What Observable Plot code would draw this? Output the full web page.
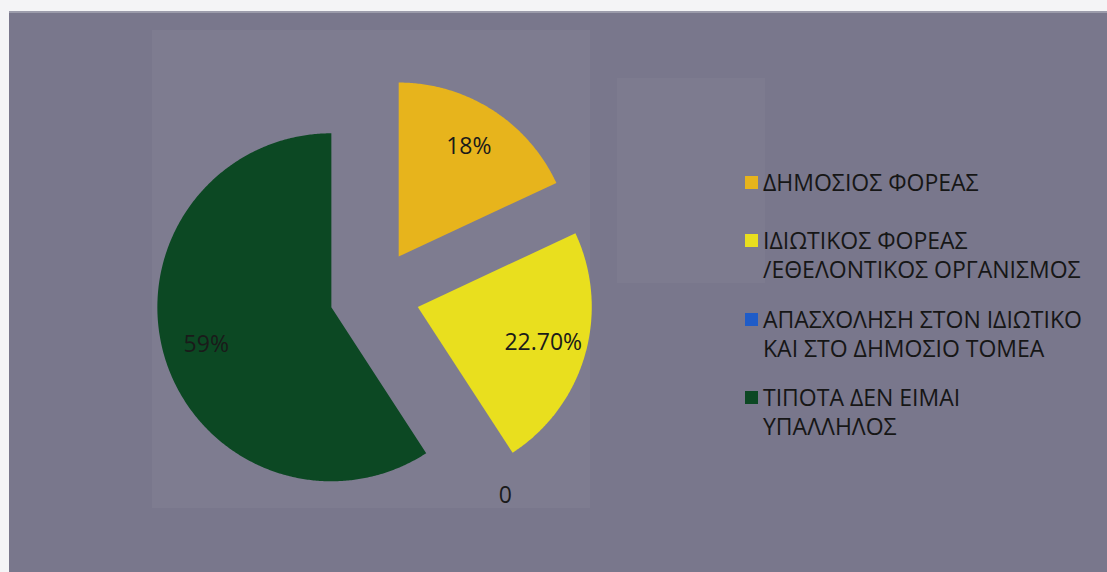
<!DOCTYPE html>
<html>
<head>
<meta charset="utf-8">
<script src="https://cdn.jsdelivr.net/npm/d3@7"></script>
<script src="https://cdn.jsdelivr.net/npm/@observablehq/plot@0.6"></script>
<style>
  html, body { margin: 0; padding: 0; background: #ffffff; }
  #wrap { position: relative; width: 1107px; height: 572px; overflow: hidden; background: #f4f4f6; }
  #frame { position: absolute; left: 9px; top: 11px; width: 1098px; height: 561px;
           background: rgb(121,119,140); border-top: 2px solid #9c9cab; box-sizing: border-box; }
  #plotbg { position: absolute; left: 152px; top: 30px; width: 438px; height: 478px; background: rgb(126,124,144); }
  #legbg { position: absolute; left: 617px; top: 78px; width: 148px; height: 205px; background: rgb(125,123,143); }
  #chart { position: absolute; left: 0; top: 0; }
  #legend { position: absolute; left: 745px; top: 168px; width: 345px;
            font-family: "Open Sans", sans-serif; font-size: 23px; line-height: 29px; color: #161616; }
  .item { position: relative; padding-left: 18px; width: 327px; }
  .sw { position: absolute; left: 0; top: 8px; width: 13px; height: 13px; }
</style>
</head>
<body>
<div id="wrap">
  <div id="frame"></div>
  <div id="plotbg"></div>
  <div id="legbg"></div>
  <div id="chart"></div>
  <div id="legend"></div>
</div>
<script>
// ---- data ----
const categories = [
  "ΔΗΜΟΣΙΟΣ ΦΟΡΕΑΣ",
  "ΙΔΙΩΤΙΚΟΣ ΦΟΡΕΑΣ /ΕΘΕΛΟΝΤΙΚΟΣ ΟΡΓΑΝΙΣΜΟΣ",
  "ΑΠΑΣΧΟΛΗΣΗ ΣΤΟΝ ΙΔΙΩΤΙΚΟ ΚΑΙ ΣΤΟ ΔΗΜΟΣΙΟ ΤΟΜΕΑ",
  "ΤΙΠΟΤΑ ΔΕΝ ΕΙΜΑΙ ΥΠΑΛΛΗΛΟΣ"
];
const values = [18, 22.7, 0, 59];
const valueLabels = ["18%", "22.70%", "0", "59%"];

// ---- styles ----
const colors = ["#e7b41c", "#e9df1e", "#1f5cc8", "#0c4823"];

// ---- layout ----
const W = 1107, H = 572;
const cx = 374, cy = 294, R = 174;
const explode = 45 / R;

const arcs = d3.pie().sort(null).value(d => d)(values);
const slices = categories.map((c, i) => ({
  category: c, value: values[i], label: valueLabels[i],
  start: arcs[i].startAngle, end: arcs[i].endAngle
}));

const poly = [];
const labels = [];
for (const s of slices) {
  const mid = (s.start + s.end) / 2;
  const ox = explode * Math.sin(mid), oy = explode * Math.cos(mid);
  const k = s.value > 0 ? 0.75 : 1.12;
  labels.push({label: s.label, x: ox + k * Math.sin(mid), y: oy + k * Math.cos(mid)});
  if (s.end - s.start <= 0) continue;
  poly.push({category: s.category, x: ox, y: oy});
  const n = Math.max(2, Math.ceil((s.end - s.start) / (Math.PI / 360)));
  for (let j = 0; j <= n; j++) {
    const a = s.start + (s.end - s.start) * j / n;
    poly.push({category: s.category, x: ox + Math.sin(a), y: oy + Math.cos(a)});
  }
  poly.push({category: s.category, x: ox, y: oy});
}

const chart = Plot.plot({
  width: W, height: H, margin: 0,
  x: {domain: [-cx / R, (W - cx) / R], axis: null},
  y: {domain: [-(H - cy) / R, cy / R], axis: null},
  color: {domain: categories, range: colors},
  style: {background: "transparent", overflow: "visible"},
  marks: [
    Plot.line(poly, {x: "x", y: "y", z: "category", fill: "category", stroke: "none", curve: "linear"}),
    Plot.text(labels, {x: "x", y: "y", text: "label", fontSize: 23, fill: "#1a1a1a",
                       fontFamily: "Open Sans", textAnchor: "middle", lineAnchor: "middle"})
  ]
});
document.getElementById("chart").appendChild(chart);

// ---- legend ----
const legend = document.getElementById("legend");
const gaps = [0, 29, 21, 20];
categories.forEach((c, i) => {
  const it = document.createElement("div");
  it.className = "item";
  it.style.marginTop = gaps[i] + "px";
  const sw = document.createElement("span");
  sw.className = "sw";
  sw.style.background = colors[i];
  it.appendChild(sw);
  // word joiner after "/" keeps the slash attached to the following word
  it.appendChild(document.createTextNode(c.replace(/\//g, "/\u2060")));
  legend.appendChild(it);
});
</script>
</body>
</html>
